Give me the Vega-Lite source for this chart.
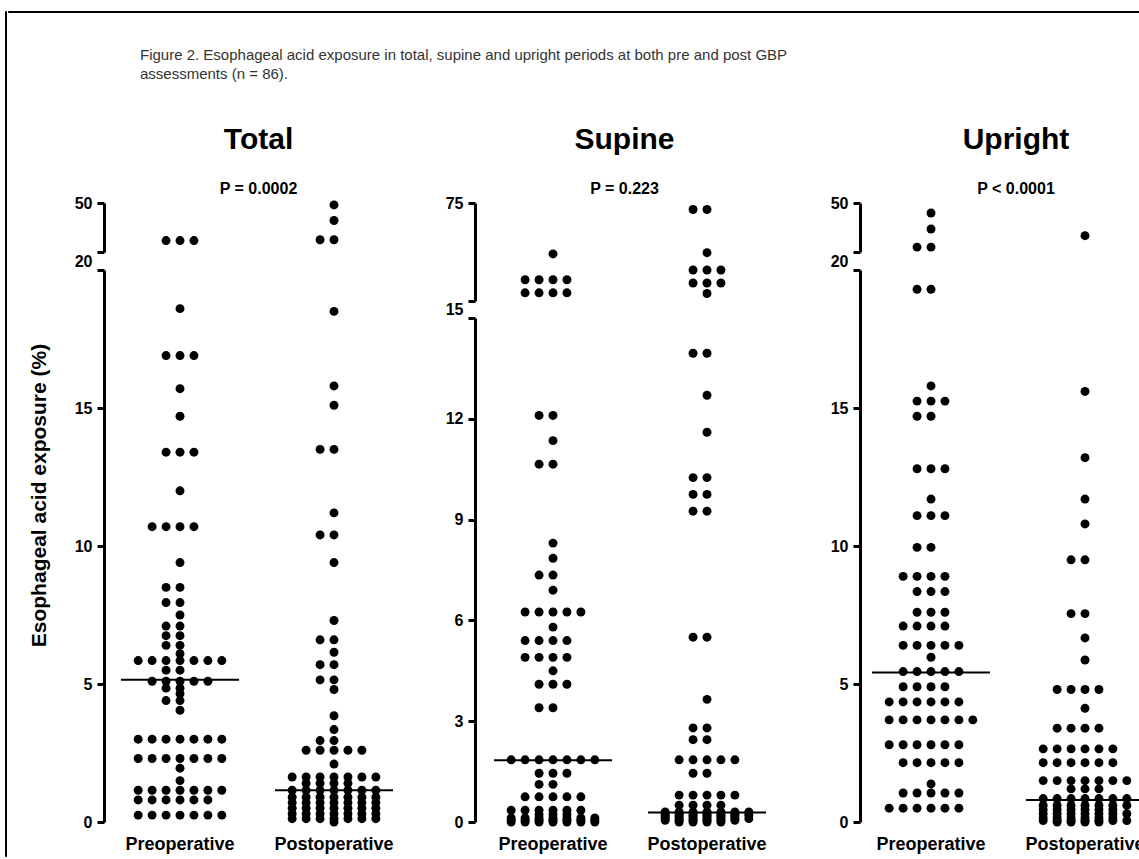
{
"$schema": "https://vega.github.io/schema/vega-lite/v6.json",
"background": "white",
"padding": {"left": 4, "top": 10, "right": 0, "bottom": 0},
"config": {
  "view": {"stroke": null},
  "font": "Liberation Sans",
  "axis": {"grid": false, "labelFont": "Liberation Sans", "labelFontWeight": "bold", "labelColor": "black", "labelFontSize": 16, "labelPadding": 5, "domainColor": "black", "domainWidth": 3, "tickColor": "black", "tickWidth": 3, "tickSize": 7, "titleFont": "Liberation Sans", "titleFontWeight": "bold", "titleColor": "black", "titleFontSize": 21},
  "title": {"font": "Liberation Sans", "fontSize": 30, "fontWeight": "bold", "color": "black", "subtitleFont": "Liberation Sans", "subtitleFontSize": 16, "subtitleFontWeight": "bold", "subtitleColor": "black", "subtitlePadding": 26, "offset": -2, "anchor": "middle"}
},
"datasets": {
"medians": [
{"panel":"Total","group":"Pre","value":5.15},{"panel":"Total","group":"Post","value":1.15},
{"panel":"Supine","group":"Pre","value":1.84},{"panel":"Supine","group":"Post","value":0.28},
{"panel":"Upright","group":"Pre","value":5.42},{"panel":"Upright","group":"Post","value":0.8}
],
"dots": [
{"panel":"Total","group":"Pre","value":27},{"panel":"Total","group":"Pre","value":27},{"panel":"Total","group":"Pre","value":27},
{"panel":"Total","group":"Pre","value":18.6},
{"panel":"Total","group":"Pre","value":16.9},{"panel":"Total","group":"Pre","value":16.9},{"panel":"Total","group":"Pre","value":16.9},
{"panel":"Total","group":"Pre","value":15.7},
{"panel":"Total","group":"Pre","value":14.7},
{"panel":"Total","group":"Pre","value":13.4},{"panel":"Total","group":"Pre","value":13.4},{"panel":"Total","group":"Pre","value":13.4},
{"panel":"Total","group":"Pre","value":12},
{"panel":"Total","group":"Pre","value":10.7},{"panel":"Total","group":"Pre","value":10.7},{"panel":"Total","group":"Pre","value":10.7},{"panel":"Total","group":"Pre","value":10.7},
{"panel":"Total","group":"Pre","value":9.4},
{"panel":"Total","group":"Pre","value":8.5},{"panel":"Total","group":"Pre","value":8.5},
{"panel":"Total","group":"Pre","value":7.95},{"panel":"Total","group":"Pre","value":7.95},
{"panel":"Total","group":"Pre","value":7.5},
{"panel":"Total","group":"Pre","value":7.1},{"panel":"Total","group":"Pre","value":7.1},
{"panel":"Total","group":"Pre","value":6.75},{"panel":"Total","group":"Pre","value":6.75},
{"panel":"Total","group":"Pre","value":6.4},{"panel":"Total","group":"Pre","value":6.4},
{"panel":"Total","group":"Pre","value":6.1},
{"panel":"Total","group":"Pre","value":5.85},{"panel":"Total","group":"Pre","value":5.85},{"panel":"Total","group":"Pre","value":5.85},{"panel":"Total","group":"Pre","value":5.85},{"panel":"Total","group":"Pre","value":5.85},{"panel":"Total","group":"Pre","value":5.85},{"panel":"Total","group":"Pre","value":5.85},
{"panel":"Total","group":"Pre","value":5.5},{"panel":"Total","group":"Pre","value":5.5},
{"panel":"Total","group":"Pre","value":5.1},{"panel":"Total","group":"Pre","value":5.1},{"panel":"Total","group":"Pre","value":5.1},{"panel":"Total","group":"Pre","value":5.1},{"panel":"Total","group":"Pre","value":5.1},
{"panel":"Total","group":"Pre","value":4.85},{"panel":"Total","group":"Pre","value":4.85},
{"panel":"Total","group":"Pre","value":4.65},
{"panel":"Total","group":"Pre","value":4.4},{"panel":"Total","group":"Pre","value":4.4},
{"panel":"Total","group":"Pre","value":4.05},
{"panel":"Total","group":"Pre","value":3},{"panel":"Total","group":"Pre","value":3},{"panel":"Total","group":"Pre","value":3},{"panel":"Total","group":"Pre","value":3},{"panel":"Total","group":"Pre","value":3},{"panel":"Total","group":"Pre","value":3},{"panel":"Total","group":"Pre","value":3},
{"panel":"Total","group":"Pre","value":2.3},{"panel":"Total","group":"Pre","value":2.3},{"panel":"Total","group":"Pre","value":2.3},{"panel":"Total","group":"Pre","value":2.3},{"panel":"Total","group":"Pre","value":2.3},{"panel":"Total","group":"Pre","value":2.3},{"panel":"Total","group":"Pre","value":2.3},
{"panel":"Total","group":"Pre","value":1.95},
{"panel":"Total","group":"Pre","value":1.5},
{"panel":"Total","group":"Pre","value":1.15},{"panel":"Total","group":"Pre","value":1.15},{"panel":"Total","group":"Pre","value":1.15},{"panel":"Total","group":"Pre","value":1.15},{"panel":"Total","group":"Pre","value":1.15},{"panel":"Total","group":"Pre","value":1.15},{"panel":"Total","group":"Pre","value":1.15},
{"panel":"Total","group":"Pre","value":0.8},{"panel":"Total","group":"Pre","value":0.8},{"panel":"Total","group":"Pre","value":0.8},{"panel":"Total","group":"Pre","value":0.8},{"panel":"Total","group":"Pre","value":0.8},{"panel":"Total","group":"Pre","value":0.8},
{"panel":"Total","group":"Pre","value":0.25},{"panel":"Total","group":"Pre","value":0.25},{"panel":"Total","group":"Pre","value":0.25},{"panel":"Total","group":"Pre","value":0.25},{"panel":"Total","group":"Pre","value":0.25},{"panel":"Total","group":"Pre","value":0.25},{"panel":"Total","group":"Pre","value":0.25},

{"panel":"Total","group":"Post","value":48.8},
{"panel":"Total","group":"Post","value":39.3},
{"panel":"Total","group":"Post","value":27.5},{"panel":"Total","group":"Post","value":27.5},
{"panel":"Total","group":"Post","value":18.5},
{"panel":"Total","group":"Post","value":15.8},
{"panel":"Total","group":"Post","value":15.1},
{"panel":"Total","group":"Post","value":13.5},{"panel":"Total","group":"Post","value":13.5},
{"panel":"Total","group":"Post","value":11.2},
{"panel":"Total","group":"Post","value":10.4},{"panel":"Total","group":"Post","value":10.4},
{"panel":"Total","group":"Post","value":9.4},
{"panel":"Total","group":"Post","value":7.3},
{"panel":"Total","group":"Post","value":6.6},{"panel":"Total","group":"Post","value":6.6},
{"panel":"Total","group":"Post","value":6.15},
{"panel":"Total","group":"Post","value":5.7},{"panel":"Total","group":"Post","value":5.7},
{"panel":"Total","group":"Post","value":5.15},{"panel":"Total","group":"Post","value":5.15},
{"panel":"Total","group":"Post","value":4.8},
{"panel":"Total","group":"Post","value":3.85},
{"panel":"Total","group":"Post","value":3.35},
{"panel":"Total","group":"Post","value":2.95},{"panel":"Total","group":"Post","value":2.95},
{"panel":"Total","group":"Post","value":2.6},{"panel":"Total","group":"Post","value":2.6},{"panel":"Total","group":"Post","value":2.6},{"panel":"Total","group":"Post","value":2.6},{"panel":"Total","group":"Post","value":2.6},
{"panel":"Total","group":"Post","value":2.1},
{"panel":"Total","group":"Post","value":1.63},{"panel":"Total","group":"Post","value":1.63},{"panel":"Total","group":"Post","value":1.63},{"panel":"Total","group":"Post","value":1.63},{"panel":"Total","group":"Post","value":1.63},{"panel":"Total","group":"Post","value":1.63},{"panel":"Total","group":"Post","value":1.63},
{"panel":"Total","group":"Post","value":1.4},{"panel":"Total","group":"Post","value":1.4},{"panel":"Total","group":"Post","value":1.4},{"panel":"Total","group":"Post","value":1.4},
{"panel":"Total","group":"Post","value":1.15},{"panel":"Total","group":"Post","value":1.15},{"panel":"Total","group":"Post","value":1.15},{"panel":"Total","group":"Post","value":1.15},{"panel":"Total","group":"Post","value":1.15},{"panel":"Total","group":"Post","value":1.15},{"panel":"Total","group":"Post","value":1.15},
{"panel":"Total","group":"Post","value":0.9},{"panel":"Total","group":"Post","value":0.9},{"panel":"Total","group":"Post","value":0.9},{"panel":"Total","group":"Post","value":0.9},{"panel":"Total","group":"Post","value":0.9},{"panel":"Total","group":"Post","value":0.9},{"panel":"Total","group":"Post","value":0.9},
{"panel":"Total","group":"Post","value":0.7},{"panel":"Total","group":"Post","value":0.7},{"panel":"Total","group":"Post","value":0.7},{"panel":"Total","group":"Post","value":0.7},{"panel":"Total","group":"Post","value":0.7},{"panel":"Total","group":"Post","value":0.7},{"panel":"Total","group":"Post","value":0.7},
{"panel":"Total","group":"Post","value":0.5},{"panel":"Total","group":"Post","value":0.5},{"panel":"Total","group":"Post","value":0.5},{"panel":"Total","group":"Post","value":0.5},{"panel":"Total","group":"Post","value":0.5},{"panel":"Total","group":"Post","value":0.5},{"panel":"Total","group":"Post","value":0.5},
{"panel":"Total","group":"Post","value":0.3},{"panel":"Total","group":"Post","value":0.3},{"panel":"Total","group":"Post","value":0.3},{"panel":"Total","group":"Post","value":0.3},{"panel":"Total","group":"Post","value":0.3},{"panel":"Total","group":"Post","value":0.3},{"panel":"Total","group":"Post","value":0.3},
{"panel":"Total","group":"Post","value":0.12},{"panel":"Total","group":"Post","value":0.12},{"panel":"Total","group":"Post","value":0.12},{"panel":"Total","group":"Post","value":0.12},{"panel":"Total","group":"Post","value":0.12},{"panel":"Total","group":"Post","value":0.12},{"panel":"Total","group":"Post","value":0.12},
{"panel":"Total","group":"Post","value":0},

{"panel":"Supine","group":"Pre","value":43.8},
{"panel":"Supine","group":"Pre","value":28},{"panel":"Supine","group":"Pre","value":28},{"panel":"Supine","group":"Pre","value":28},{"panel":"Supine","group":"Pre","value":28},
{"panel":"Supine","group":"Pre","value":20},{"panel":"Supine","group":"Pre","value":20},{"panel":"Supine","group":"Pre","value":20},{"panel":"Supine","group":"Pre","value":20},
{"panel":"Supine","group":"Pre","value":12.1},{"panel":"Supine","group":"Pre","value":12.1},
{"panel":"Supine","group":"Pre","value":11.35},
{"panel":"Supine","group":"Pre","value":10.65},{"panel":"Supine","group":"Pre","value":10.65},
{"panel":"Supine","group":"Pre","value":8.3},
{"panel":"Supine","group":"Pre","value":7.85},
{"panel":"Supine","group":"Pre","value":7.35},{"panel":"Supine","group":"Pre","value":7.35},
{"panel":"Supine","group":"Pre","value":6.9},
{"panel":"Supine","group":"Pre","value":6.25},{"panel":"Supine","group":"Pre","value":6.25},{"panel":"Supine","group":"Pre","value":6.25},{"panel":"Supine","group":"Pre","value":6.25},{"panel":"Supine","group":"Pre","value":6.25},
{"panel":"Supine","group":"Pre","value":5.8},
{"panel":"Supine","group":"Pre","value":5.4},{"panel":"Supine","group":"Pre","value":5.4},{"panel":"Supine","group":"Pre","value":5.4},{"panel":"Supine","group":"Pre","value":5.4},
{"panel":"Supine","group":"Pre","value":4.9},{"panel":"Supine","group":"Pre","value":4.9},{"panel":"Supine","group":"Pre","value":4.9},{"panel":"Supine","group":"Pre","value":4.9},
{"panel":"Supine","group":"Pre","value":4.5},
{"panel":"Supine","group":"Pre","value":4.1},{"panel":"Supine","group":"Pre","value":4.1},{"panel":"Supine","group":"Pre","value":4.1},
{"panel":"Supine","group":"Pre","value":3.4},{"panel":"Supine","group":"Pre","value":3.4},
{"panel":"Supine","group":"Pre","value":1.85},{"panel":"Supine","group":"Pre","value":1.85},{"panel":"Supine","group":"Pre","value":1.85},{"panel":"Supine","group":"Pre","value":1.85},{"panel":"Supine","group":"Pre","value":1.85},{"panel":"Supine","group":"Pre","value":1.85},{"panel":"Supine","group":"Pre","value":1.85},
{"panel":"Supine","group":"Pre","value":1.45},{"panel":"Supine","group":"Pre","value":1.45},{"panel":"Supine","group":"Pre","value":1.45},
{"panel":"Supine","group":"Pre","value":1.12},{"panel":"Supine","group":"Pre","value":1.12},
{"panel":"Supine","group":"Pre","value":0.75},{"panel":"Supine","group":"Pre","value":0.75},{"panel":"Supine","group":"Pre","value":0.75},{"panel":"Supine","group":"Pre","value":0.75},{"panel":"Supine","group":"Pre","value":0.75},
{"panel":"Supine","group":"Pre","value":0.35},{"panel":"Supine","group":"Pre","value":0.35},{"panel":"Supine","group":"Pre","value":0.35},{"panel":"Supine","group":"Pre","value":0.35},{"panel":"Supine","group":"Pre","value":0.35},{"panel":"Supine","group":"Pre","value":0.35},
{"panel":"Supine","group":"Pre","value":0.22},{"panel":"Supine","group":"Pre","value":0.22},{"panel":"Supine","group":"Pre","value":0.22},
{"panel":"Supine","group":"Pre","value":0.12},{"panel":"Supine","group":"Pre","value":0.12},{"panel":"Supine","group":"Pre","value":0.12},{"panel":"Supine","group":"Pre","value":0.12},{"panel":"Supine","group":"Pre","value":0.12},{"panel":"Supine","group":"Pre","value":0.12},{"panel":"Supine","group":"Pre","value":0.12},
{"panel":"Supine","group":"Pre","value":0.05},{"panel":"Supine","group":"Pre","value":0.05},{"panel":"Supine","group":"Pre","value":0.05},{"panel":"Supine","group":"Pre","value":0.05},{"panel":"Supine","group":"Pre","value":0.05},{"panel":"Supine","group":"Pre","value":0.05},{"panel":"Supine","group":"Pre","value":0.05},
{"panel":"Supine","group":"Pre","value":0},{"panel":"Supine","group":"Pre","value":0},{"panel":"Supine","group":"Pre","value":0},{"panel":"Supine","group":"Pre","value":0},{"panel":"Supine","group":"Pre","value":0},{"panel":"Supine","group":"Pre","value":0},{"panel":"Supine","group":"Pre","value":0},

{"panel":"Supine","group":"Post","value":71},{"panel":"Supine","group":"Post","value":71},
{"panel":"Supine","group":"Post","value":44.6},
{"panel":"Supine","group":"Post","value":34},{"panel":"Supine","group":"Post","value":34},{"panel":"Supine","group":"Post","value":34},
{"panel":"Supine","group":"Post","value":26},{"panel":"Supine","group":"Post","value":26},{"panel":"Supine","group":"Post","value":26},
{"panel":"Supine","group":"Post","value":19.6},
{"panel":"Supine","group":"Post","value":13.95},{"panel":"Supine","group":"Post","value":13.95},
{"panel":"Supine","group":"Post","value":12.7},
{"panel":"Supine","group":"Post","value":11.6},
{"panel":"Supine","group":"Post","value":10.25},{"panel":"Supine","group":"Post","value":10.25},
{"panel":"Supine","group":"Post","value":9.75},{"panel":"Supine","group":"Post","value":9.75},
{"panel":"Supine","group":"Post","value":9.25},{"panel":"Supine","group":"Post","value":9.25},
{"panel":"Supine","group":"Post","value":5.5},{"panel":"Supine","group":"Post","value":5.5},
{"panel":"Supine","group":"Post","value":3.65},
{"panel":"Supine","group":"Post","value":2.8},{"panel":"Supine","group":"Post","value":2.8},
{"panel":"Supine","group":"Post","value":2.45},{"panel":"Supine","group":"Post","value":2.45},
{"panel":"Supine","group":"Post","value":1.85},{"panel":"Supine","group":"Post","value":1.85},{"panel":"Supine","group":"Post","value":1.85},{"panel":"Supine","group":"Post","value":1.85},{"panel":"Supine","group":"Post","value":1.85},
{"panel":"Supine","group":"Post","value":1.45},{"panel":"Supine","group":"Post","value":1.45},
{"panel":"Supine","group":"Post","value":0.8},{"panel":"Supine","group":"Post","value":0.8},{"panel":"Supine","group":"Post","value":0.8},{"panel":"Supine","group":"Post","value":0.8},{"panel":"Supine","group":"Post","value":0.8},
{"panel":"Supine","group":"Post","value":0.5},{"panel":"Supine","group":"Post","value":0.5},{"panel":"Supine","group":"Post","value":0.5},{"panel":"Supine","group":"Post","value":0.5},
{"panel":"Supine","group":"Post","value":0.3},{"panel":"Supine","group":"Post","value":0.3},{"panel":"Supine","group":"Post","value":0.3},{"panel":"Supine","group":"Post","value":0.3},{"panel":"Supine","group":"Post","value":0.3},{"panel":"Supine","group":"Post","value":0.3},{"panel":"Supine","group":"Post","value":0.3},
{"panel":"Supine","group":"Post","value":0.25},{"panel":"Supine","group":"Post","value":0.25},{"panel":"Supine","group":"Post","value":0.25},{"panel":"Supine","group":"Post","value":0.25},{"panel":"Supine","group":"Post","value":0.25},{"panel":"Supine","group":"Post","value":0.25},
{"panel":"Supine","group":"Post","value":0.2},{"panel":"Supine","group":"Post","value":0.2},{"panel":"Supine","group":"Post","value":0.2},{"panel":"Supine","group":"Post","value":0.2},{"panel":"Supine","group":"Post","value":0.2},{"panel":"Supine","group":"Post","value":0.2},{"panel":"Supine","group":"Post","value":0.2},
{"panel":"Supine","group":"Post","value":0.15},{"panel":"Supine","group":"Post","value":0.15},{"panel":"Supine","group":"Post","value":0.15},{"panel":"Supine","group":"Post","value":0.15},{"panel":"Supine","group":"Post","value":0.15},{"panel":"Supine","group":"Post","value":0.15},
{"panel":"Supine","group":"Post","value":0.1},{"panel":"Supine","group":"Post","value":0.1},{"panel":"Supine","group":"Post","value":0.1},{"panel":"Supine","group":"Post","value":0.1},{"panel":"Supine","group":"Post","value":0.1},{"panel":"Supine","group":"Post","value":0.1},{"panel":"Supine","group":"Post","value":0.1},
{"panel":"Supine","group":"Post","value":0.05},{"panel":"Supine","group":"Post","value":0.05},{"panel":"Supine","group":"Post","value":0.05},{"panel":"Supine","group":"Post","value":0.05},{"panel":"Supine","group":"Post","value":0.05},{"panel":"Supine","group":"Post","value":0.05},
{"panel":"Supine","group":"Post","value":0},{"panel":"Supine","group":"Post","value":0},{"panel":"Supine","group":"Post","value":0},{"panel":"Supine","group":"Post","value":0},

{"panel":"Upright","group":"Pre","value":43.9},
{"panel":"Upright","group":"Pre","value":34.1},
{"panel":"Upright","group":"Pre","value":23},{"panel":"Upright","group":"Pre","value":23},
{"panel":"Upright","group":"Pre","value":19.3},{"panel":"Upright","group":"Pre","value":19.3},
{"panel":"Upright","group":"Pre","value":15.8},
{"panel":"Upright","group":"Pre","value":15.25},{"panel":"Upright","group":"Pre","value":15.25},{"panel":"Upright","group":"Pre","value":15.25},
{"panel":"Upright","group":"Pre","value":14.7},{"panel":"Upright","group":"Pre","value":14.7},
{"panel":"Upright","group":"Pre","value":12.8},{"panel":"Upright","group":"Pre","value":12.8},{"panel":"Upright","group":"Pre","value":12.8},
{"panel":"Upright","group":"Pre","value":11.7},
{"panel":"Upright","group":"Pre","value":11.1},{"panel":"Upright","group":"Pre","value":11.1},{"panel":"Upright","group":"Pre","value":11.1},
{"panel":"Upright","group":"Pre","value":9.95},{"panel":"Upright","group":"Pre","value":9.95},
{"panel":"Upright","group":"Pre","value":8.9},{"panel":"Upright","group":"Pre","value":8.9},{"panel":"Upright","group":"Pre","value":8.9},{"panel":"Upright","group":"Pre","value":8.9},
{"panel":"Upright","group":"Pre","value":8.35},{"panel":"Upright","group":"Pre","value":8.35},{"panel":"Upright","group":"Pre","value":8.35},
{"panel":"Upright","group":"Pre","value":7.6},{"panel":"Upright","group":"Pre","value":7.6},{"panel":"Upright","group":"Pre","value":7.6},
{"panel":"Upright","group":"Pre","value":7.1},{"panel":"Upright","group":"Pre","value":7.1},{"panel":"Upright","group":"Pre","value":7.1},{"panel":"Upright","group":"Pre","value":7.1},
{"panel":"Upright","group":"Pre","value":6.4},{"panel":"Upright","group":"Pre","value":6.4},{"panel":"Upright","group":"Pre","value":6.4},{"panel":"Upright","group":"Pre","value":6.4},{"panel":"Upright","group":"Pre","value":6.4},
{"panel":"Upright","group":"Pre","value":5.97},
{"panel":"Upright","group":"Pre","value":5.45},{"panel":"Upright","group":"Pre","value":5.45},{"panel":"Upright","group":"Pre","value":5.45},{"panel":"Upright","group":"Pre","value":5.45},{"panel":"Upright","group":"Pre","value":5.45},
{"panel":"Upright","group":"Pre","value":4.9},{"panel":"Upright","group":"Pre","value":4.9},{"panel":"Upright","group":"Pre","value":4.9},{"panel":"Upright","group":"Pre","value":4.9},
{"panel":"Upright","group":"Pre","value":4.35},{"panel":"Upright","group":"Pre","value":4.35},{"panel":"Upright","group":"Pre","value":4.35},{"panel":"Upright","group":"Pre","value":4.35},{"panel":"Upright","group":"Pre","value":4.35},{"panel":"Upright","group":"Pre","value":4.35},
{"panel":"Upright","group":"Pre","value":3.7},{"panel":"Upright","group":"Pre","value":3.7},{"panel":"Upright","group":"Pre","value":3.7},{"panel":"Upright","group":"Pre","value":3.7},{"panel":"Upright","group":"Pre","value":3.7},{"panel":"Upright","group":"Pre","value":3.7},{"panel":"Upright","group":"Pre","value":3.7},
{"panel":"Upright","group":"Pre","value":2.8},{"panel":"Upright","group":"Pre","value":2.8},{"panel":"Upright","group":"Pre","value":2.8},{"panel":"Upright","group":"Pre","value":2.8},{"panel":"Upright","group":"Pre","value":2.8},{"panel":"Upright","group":"Pre","value":2.8},
{"panel":"Upright","group":"Pre","value":2.15},{"panel":"Upright","group":"Pre","value":2.15},{"panel":"Upright","group":"Pre","value":2.15},{"panel":"Upright","group":"Pre","value":2.15},{"panel":"Upright","group":"Pre","value":2.15},
{"panel":"Upright","group":"Pre","value":1.38},
{"panel":"Upright","group":"Pre","value":1.05},{"panel":"Upright","group":"Pre","value":1.05},{"panel":"Upright","group":"Pre","value":1.05},{"panel":"Upright","group":"Pre","value":1.05},{"panel":"Upright","group":"Pre","value":1.05},
{"panel":"Upright","group":"Pre","value":0.5},{"panel":"Upright","group":"Pre","value":0.5},{"panel":"Upright","group":"Pre","value":0.5},{"panel":"Upright","group":"Pre","value":0.5},{"panel":"Upright","group":"Pre","value":0.5},{"panel":"Upright","group":"Pre","value":0.5},

{"panel":"Upright","group":"Post","value":30},
{"panel":"Upright","group":"Post","value":15.6},
{"panel":"Upright","group":"Post","value":13.2},
{"panel":"Upright","group":"Post","value":11.7},
{"panel":"Upright","group":"Post","value":10.8},
{"panel":"Upright","group":"Post","value":9.5},{"panel":"Upright","group":"Post","value":9.5},
{"panel":"Upright","group":"Post","value":7.55},{"panel":"Upright","group":"Post","value":7.55},
{"panel":"Upright","group":"Post","value":6.67},
{"panel":"Upright","group":"Post","value":5.87},
{"panel":"Upright","group":"Post","value":4.8},{"panel":"Upright","group":"Post","value":4.8},{"panel":"Upright","group":"Post","value":4.8},{"panel":"Upright","group":"Post","value":4.8},
{"panel":"Upright","group":"Post","value":4.12},
{"panel":"Upright","group":"Post","value":3.4},{"panel":"Upright","group":"Post","value":3.4},{"panel":"Upright","group":"Post","value":3.4},{"panel":"Upright","group":"Post","value":3.4},
{"panel":"Upright","group":"Post","value":2.65},{"panel":"Upright","group":"Post","value":2.65},{"panel":"Upright","group":"Post","value":2.65},{"panel":"Upright","group":"Post","value":2.65},{"panel":"Upright","group":"Post","value":2.65},{"panel":"Upright","group":"Post","value":2.65},
{"panel":"Upright","group":"Post","value":2.15},{"panel":"Upright","group":"Post","value":2.15},{"panel":"Upright","group":"Post","value":2.15},{"panel":"Upright","group":"Post","value":2.15},{"panel":"Upright","group":"Post","value":2.15},{"panel":"Upright","group":"Post","value":2.15},
{"panel":"Upright","group":"Post","value":1.5},{"panel":"Upright","group":"Post","value":1.5},{"panel":"Upright","group":"Post","value":1.5},{"panel":"Upright","group":"Post","value":1.5},{"panel":"Upright","group":"Post","value":1.5},{"panel":"Upright","group":"Post","value":1.5},{"panel":"Upright","group":"Post","value":1.5},
{"panel":"Upright","group":"Post","value":1.2},{"panel":"Upright","group":"Post","value":1.2},{"panel":"Upright","group":"Post","value":1.2},
{"panel":"Upright","group":"Post","value":0.85},{"panel":"Upright","group":"Post","value":0.85},{"panel":"Upright","group":"Post","value":0.85},{"panel":"Upright","group":"Post","value":0.85},{"panel":"Upright","group":"Post","value":0.85},{"panel":"Upright","group":"Post","value":0.85},{"panel":"Upright","group":"Post","value":0.85},
{"panel":"Upright","group":"Post","value":0.6},{"panel":"Upright","group":"Post","value":0.6},{"panel":"Upright","group":"Post","value":0.6},{"panel":"Upright","group":"Post","value":0.6},{"panel":"Upright","group":"Post","value":0.6},{"panel":"Upright","group":"Post","value":0.6},{"panel":"Upright","group":"Post","value":0.6},
{"panel":"Upright","group":"Post","value":0.45},{"panel":"Upright","group":"Post","value":0.45},{"panel":"Upright","group":"Post","value":0.45},{"panel":"Upright","group":"Post","value":0.45},{"panel":"Upright","group":"Post","value":0.45},{"panel":"Upright","group":"Post","value":0.45},
{"panel":"Upright","group":"Post","value":0.3},{"panel":"Upright","group":"Post","value":0.3},{"panel":"Upright","group":"Post","value":0.3},{"panel":"Upright","group":"Post","value":0.3},{"panel":"Upright","group":"Post","value":0.3},{"panel":"Upright","group":"Post","value":0.3},{"panel":"Upright","group":"Post","value":0.3},
{"panel":"Upright","group":"Post","value":0.15},{"panel":"Upright","group":"Post","value":0.15},{"panel":"Upright","group":"Post","value":0.15},{"panel":"Upright","group":"Post","value":0.15},{"panel":"Upright","group":"Post","value":0.15},{"panel":"Upright","group":"Post","value":0.15},
{"panel":"Upright","group":"Post","value":0.05},{"panel":"Upright","group":"Post","value":0.05},{"panel":"Upright","group":"Post","value":0.05},{"panel":"Upright","group":"Post","value":0.05},{"panel":"Upright","group":"Post","value":0.05},{"panel":"Upright","group":"Post","value":0.05},{"panel":"Upright","group":"Post","value":0.05},
{"panel":"Upright","group":"Post","value":0},{"panel":"Upright","group":"Post","value":0},{"panel":"Upright","group":"Post","value":0},{"panel":"Upright","group":"Post","value":0}
]
},
"spacing": 0,
"hconcat": [
{"width": 1, "height": 845, "data": {"values": []}, "mark": "point", "view": {"stroke": "black", "strokeWidth": 1, "fill": "black"}},
{
"spacing": 35,
"vconcat": [
{"width": 1135, "height": 1, "data": {"values": []}, "mark": "point", "view": {"stroke": "black", "strokeWidth": 1, "fill": "black"}},
{
"title": {"text": ["Figure 2. Esophageal acid exposure in total, supine and upright periods at both pre and post GBP", "assessments (n = 86)."], "anchor": "start", "font": "Liberation Sans", "fontSize": 15, "fontWeight": "normal", "color": "#333333", "lineHeight": 19, "dx": 132, "offset": 43},
"spacing": 0,
"hconcat": [
{"width": 20, "height": 10, "data": {"values": []}, "mark": "point"},
{
 "bounds": "flush", "spacing": 18,
 "vconcat": [
  {
   "title": {"text": "Total", "subtitle": "P = 0.0002", "dx": -16},
   "width": 341, "height": 49,
   "encoding": {
    "y": {"field": "value", "type": "quantitative", "scale": {"domain": [20, 50], "nice": false, "zero": false}, "axis": {"values": [20, 50], "labelExpr": "datum.value == 20 ? '' : datum.label", "title": null}},
    "x": {"field": "group", "type": "nominal", "scale": {"domain": ["Pre", "Post"], "paddingInner": 0.35, "paddingOuter": 0.2821, "align": 0.2986}, "axis": null}
   },
   "layer": [
    {"data": {"name": "dots"}, "transform": [{"filter": {"and": [{"field": "panel", "equal": "Total"}, {"field": "value", "gt": 20}]}}, {"window": [{"op": "row_number", "as": "r"}], "groupby": ["group", "value"]}],
     "mark": {"type": "circle", "size": 80, "color": "black", "opacity": 1},
     "encoding": {"xOffset": {"field": "r", "type": "ordinal", "scale": {"domain": [6, 4, 2, 1, 3, 5, 7], "paddingInner": 0, "paddingOuter": 0.59}}}}
   ]
  },
  {
   "width": 341, "height": 552,
   "encoding": {
    "y": {"field": "value", "type": "quantitative", "scale": {"domain": [0, 20], "nice": false, "zero": false}, "axis": {"values": [0, 5, 10, 15, 20], "labelOffset": {"condition": {"test": "datum.value == 20", "value": -9}, "value": 0}, "title": "Esophageal acid exposure (%)", "titleY": 225, "titlePadding": 25}},
    "x": {"field": "group", "type": "nominal", "scale": {"domain": ["Pre", "Post"], "paddingInner": 0.35, "paddingOuter": 0.2821, "align": 0.2986}, "axis": {"orient": "bottom", "labelExpr": "datum.value == 'Pre' ? 'Preoperative' : 'Postoperative'", "title": null, "domain": false, "ticks": false, "tickSize": 0, "labelFontSize": 18, "labelPadding": 13, "labelAngle": 0}}
   },
   "layer": [
    {"data": {"name": "dots"}, "transform": [{"filter": {"and": [{"field": "panel", "equal": "Total"}, {"field": "value", "lte": 20}]}}, {"window": [{"op": "row_number", "as": "r"}], "groupby": ["group", "value"]}],
     "mark": {"type": "circle", "size": 80, "color": "black", "opacity": 1},
     "encoding": {"xOffset": {"field": "r", "type": "ordinal", "scale": {"domain": [6, 4, 2, 1, 3, 5, 7], "paddingInner": 0, "paddingOuter": 0.59}}}},
    {"data": {"name": "medians"}, "transform": [{"filter": {"field": "panel", "equal": "Total"}}],
     "mark": {"type": "tick", "orient": "horizontal", "size": 118, "thickness": 2, "color": "black", "opacity": 1}}
   ]
  }
 ]
},
{
 "bounds": "flush", "spacing": 17,
 "vconcat": [
  {
   "title": {"text": "Supine", "subtitle": "P = 0.223", "dx": -28},
   "width": 355, "height": 98,
   "encoding": {
    "y": {"field": "value", "type": "quantitative", "scale": {"domain": [15, 75], "nice": false, "zero": false}, "axis": {"values": [15, 75], "labelExpr": "datum.value == 15 ? '' : datum.label", "title": null}},
    "x": {"field": "group", "type": "nominal", "scale": {"domain": ["Pre", "Post"], "paddingInner": 0.35, "paddingOuter": 0.3276, "align": 0.277}, "axis": null}
   },
   "layer": [
    {"data": {"name": "dots"}, "transform": [{"filter": {"and": [{"field": "panel", "equal": "Supine"}, {"field": "value", "gt": 15}]}}, {"window": [{"op": "row_number", "as": "r"}], "groupby": ["group", "value"]}],
     "mark": {"type": "circle", "size": 80, "color": "black", "opacity": 1},
     "encoding": {"xOffset": {"field": "r", "type": "ordinal", "scale": {"domain": [6, 4, 2, 1, 3, 5, 7], "paddingInner": 0, "paddingOuter": 0.59}}}}
   ]
  },
  {
   "width": 355, "height": 504,
   "encoding": {
    "y": {"field": "value", "type": "quantitative", "scale": {"domain": [0, 15], "nice": false, "zero": false}, "axis": {"values": [0, 3, 6, 9, 12, 15], "labelOffset": {"condition": {"test": "datum.value == 15", "value": -8.5}, "value": 0}, "title": null}},
    "x": {"field": "group", "type": "nominal", "scale": {"domain": ["Pre", "Post"], "paddingInner": 0.35, "paddingOuter": 0.3276, "align": 0.277}, "axis": {"orient": "bottom", "labelExpr": "datum.value == 'Pre' ? 'Preoperative' : 'Postoperative'", "title": null, "domain": false, "ticks": false, "tickSize": 0, "labelFontSize": 18, "labelPadding": 13, "labelAngle": 0}}
   },
   "layer": [
    {"data": {"name": "dots"}, "transform": [{"filter": {"and": [{"field": "panel", "equal": "Supine"}, {"field": "value", "lte": 15}]}}, {"window": [{"op": "row_number", "as": "r"}], "groupby": ["group", "value"]}],
     "mark": {"type": "circle", "size": 80, "color": "black", "opacity": 1},
     "encoding": {"xOffset": {"field": "r", "type": "ordinal", "scale": {"domain": [6, 4, 2, 1, 3, 5, 7], "paddingInner": 0, "paddingOuter": 0.59}}}},
    {"data": {"name": "medians"}, "transform": [{"filter": {"field": "panel", "equal": "Supine"}}],
     "mark": {"type": "tick", "orient": "horizontal", "size": 118, "thickness": 2, "color": "black", "opacity": 1}}
   ]
  }
 ]
},
{
 "bounds": "flush", "spacing": 18,
 "vconcat": [
  {
   "title": {"text": "Upright", "subtitle": "P < 0.0001", "dx": 16},
   "width": 280, "height": 49,
   "encoding": {
    "y": {"field": "value", "type": "quantitative", "scale": {"domain": [20, 50], "nice": false, "zero": false}, "axis": {"values": [20, 50], "labelExpr": "datum.value == 20 ? '' : datum.label", "title": null}},
    "x": {"field": "group", "type": "nominal", "scale": {"domain": ["Pre", "Post"], "paddingInner": 0.35, "paddingOuter": 0.0841, "align": 0.809}, "axis": null}
   },
   "layer": [
    {"data": {"name": "dots"}, "transform": [{"filter": {"and": [{"field": "panel", "equal": "Upright"}, {"field": "value", "gt": 20}]}}, {"window": [{"op": "row_number", "as": "r"}], "groupby": ["group", "value"]}],
     "mark": {"type": "circle", "size": 80, "color": "black", "opacity": 1},
     "encoding": {"xOffset": {"field": "r", "type": "ordinal", "scale": {"domain": [6, 4, 2, 1, 3, 5, 7], "paddingInner": 0, "paddingOuter": 0.59}}}}
   ]
  },
  {
   "width": 280, "height": 552,
   "encoding": {
    "y": {"field": "value", "type": "quantitative", "scale": {"domain": [0, 20], "nice": false, "zero": false}, "axis": {"values": [0, 5, 10, 15, 20], "labelOffset": {"condition": {"test": "datum.value == 20", "value": -9}, "value": 0}, "title": null}},
    "x": {"field": "group", "type": "nominal", "scale": {"domain": ["Pre", "Post"], "paddingInner": 0.35, "paddingOuter": 0.0841, "align": 0.809}, "axis": {"orient": "bottom", "labelExpr": "datum.value == 'Pre' ? 'Preoperative' : 'Postoperative'", "title": null, "domain": false, "ticks": false, "tickSize": 0, "labelFontSize": 18, "labelPadding": 13, "labelAngle": 0}}
   },
   "layer": [
    {"data": {"name": "dots"}, "transform": [{"filter": {"and": [{"field": "panel", "equal": "Upright"}, {"field": "value", "lte": 20}]}}, {"window": [{"op": "row_number", "as": "r"}], "groupby": ["group", "value"]}],
     "mark": {"type": "circle", "size": 80, "color": "black", "opacity": 1},
     "encoding": {"xOffset": {"field": "r", "type": "ordinal", "scale": {"domain": [6, 4, 2, 1, 3, 5, 7], "paddingInner": 0, "paddingOuter": 0.59}}}},
    {"data": {"name": "medians"}, "transform": [{"filter": {"field": "panel", "equal": "Upright"}}],
     "mark": {"type": "tick", "orient": "horizontal", "size": 118, "thickness": 2, "color": "black", "opacity": 1}}
   ]
  }
 ]
}
]
}
]
}
]
}
